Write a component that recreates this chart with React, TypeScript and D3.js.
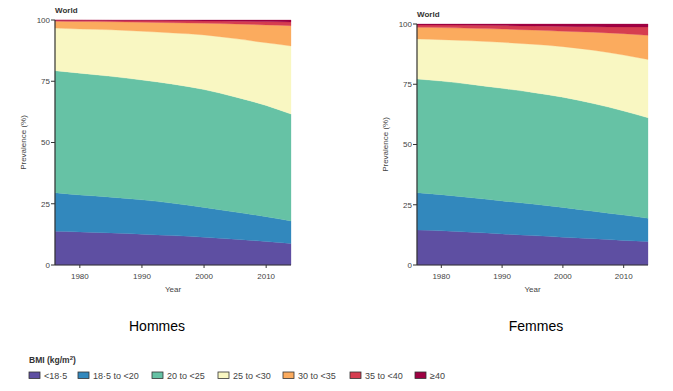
import React from "react";
import * as d3 from "d3";

const years = [1976, 1980, 1985, 1990, 1995, 2000, 2005, 2010, 2014];
const categories = ["<18·5", "18·5 to <20", "20 to <25", "25 to <30", "30 to <35", "35 to <40", "≥40"];
const colors = ["#5e4fa2", "#3288bd", "#66c2a5", "#f9f7c2", "#fbab5e", "#d63d50", "#9e0142"];
const yTicks = [0, 25, 50, 75, 100];
const xTicks = [1980, 1990, 2000, 2010];

// shares (%) per BMI category, by year
const menUnder = [13.8, 13.5, 13.1, 12.6, 12.0, 11.3, 10.5, 9.6, 8.8];
const men185 = [15.7, 15.1, 14.6, 14.0, 13.2, 12.2, 11.1, 10.1, 9.2];
const men20 = [49.8, 49.7, 49.3, 48.9, 48.6, 48.1, 47.0, 45.4, 43.6];
const men25 = [17.4, 18.0, 19.0, 19.9, 20.9, 22.3, 23.8, 25.6, 27.8];
const men30 = [2.8, 3.1, 3.3, 3.7, 4.2, 4.8, 6.0, 7.3, 8.3];
const men35 = [0.4, 0.45, 0.5, 0.65, 0.8, 0.9, 1.1, 1.35, 1.5];
const men40 = [0.1, 0.15, 0.2, 0.25, 0.3, 0.4, 0.5, 0.65, 0.8];

const womenUnder = [14.5, 14.2, 13.6, 12.9, 12.2, 11.5, 10.9, 10.2, 9.7];
const women185 = [15.5, 15.0, 14.3, 13.7, 13.1, 12.4, 11.4, 10.5, 9.7];
const women20 = [47.2, 47.1, 47.0, 46.7, 46.3, 45.7, 44.7, 43.2, 41.7];
const women25 = [16.6, 17.2, 18.1, 19.1, 20.0, 21.0, 22.1, 23.2, 24.2];
const women30 = [4.8, 5.0, 5.2, 5.5, 5.9, 6.4, 7.5, 8.9, 10.0];
const women35 = [1.0, 1.05, 1.25, 1.45, 1.7, 2.0, 2.3, 2.8, 3.5];
const women40 = [0.4, 0.45, 0.55, 0.65, 0.8, 1.0, 1.1, 1.2, 1.2];

const menSeries = [menUnder, men185, men20, men25, men30, men35, men40];
const womenSeries = [womenUnder, women185, women20, women25, women30, women35, women40];

const FONT = "'Liberation Sans', Arial, sans-serif";

type PanelProps = {
  series: number[][];
  x0: number; x1: number; yTop: number; yBottom: number;
  title: string; titleX: number;
};

function Panel({ series, x0, x1, yTop, yBottom, title, titleX }: PanelProps) {
  const rows = years.map((yr, i) => {
    const r: any = { year: yr };
    categories.forEach((c, k) => { r[c] = series[k][i]; });
    return r;
  });
  const stacked = d3.stack<any>().keys(categories).offset(d3.stackOffsetExpand)(rows);
  const x = d3.scaleLinear().domain([1976, 2014]).range([x0, x1]);
  const y = d3.scaleLinear().domain([0, 100]).range([yBottom, yTop]);
  const area = d3.area<any>()
    .x((d) => x(d.data.year))
    .y0((d) => y(d[0] * 100))
    .y1((d) => y(d[1] * 100))
    .curve(d3.curveMonotoneX);
  const midY = (yTop + yBottom) / 2;
  const midX = (x0 + x1) / 2;
  return (
    <g>
      {stacked.map((s, k) => (
        <path key={k} d={area(s) || ""} fill={colors[k]} stroke={colors[k]} strokeWidth={0.3} />
      ))}
      <line x1={x0} x2={x0} y1={yTop} y2={yBottom} stroke="#333" strokeWidth={1.2} />
      {yTicks.map((t) => (
        <g key={t}>
          <line x1={x0 - 4} x2={x0} y1={y(t)} y2={y(t)} stroke="#333" strokeWidth={1} />
          <text x={x0 - 5} y={y(t)} dy="0.35em" textAnchor="end" fontSize={8} fill="#444" fontFamily={FONT}>{t}</text>
        </g>
      ))}
      <line x1={x0} x2={x1} y1={yBottom} y2={yBottom} stroke="#333" strokeWidth={1.2} />
      {xTicks.map((t) => (
        <g key={t}>
          <line x1={x(t)} x2={x(t)} y1={yBottom} y2={yBottom + 3} stroke="#333" strokeWidth={1} />
          <text x={x(t)} y={yBottom + 14} textAnchor="middle" fontSize={8} fill="#444" fontFamily={FONT}>{t}</text>
        </g>
      ))}
      <text x={midX} y={yBottom + 27} textAnchor="middle" fontSize={8} fill="#444" fontFamily={FONT}>Year</text>
      <text transform={`translate(${x0 - 29},${midY}) rotate(-90)`} textAnchor="middle" fontSize={8} fill="#444" fontFamily={FONT}>Prevalence (%)</text>
      <text x={x0} y={yTop - 7} fontSize={8} fontWeight="bold" fill="#333" fontFamily={FONT}>World</text>
      <text x={titleX} y={330.5} textAnchor="middle" fontSize={14} fill="#000" fontFamily={FONT}>{title}</text>
    </g>
  );
}

const legendX = [29, 78, 152, 218, 283, 350, 415];

export default function App() {
  return (
    <svg width={673} height={391} style={{ position: "absolute", left: 0, top: 0, background: "#fff" }}>
      <rect width={673} height={391} fill="#fff" />
      <Panel series={menSeries} x0={55} x1={291} yTop={20} yBottom={265} title="Hommes" titleX={157} />
      <Panel series={womenSeries} x0={417} x1={648} yTop={24} yBottom={265} title="Femmes" titleX={536} />
      <text x={29} y={363} fontSize={8.5} fontWeight="bold" fill="#333" fontFamily={FONT}>
        BMI (kg/m<tspan fontSize={6} dy={-3}>2</tspan><tspan dy={3}>)</tspan>
      </text>
      {categories.map((c, k) => (
        <g key={c}>
          <rect x={legendX[k]} y={372} width={11} height={6.5} fill={colors[k]} stroke="#333" strokeWidth={0.8} />
          <text x={legendX[k] + 15} y={378.5} fontSize={9} fill="#444" fontFamily={FONT}>{c}</text>
        </g>
      ))}
    </svg>
  );
}
